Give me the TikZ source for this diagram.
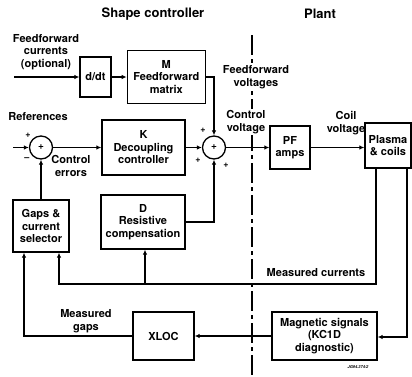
\documentclass[tikz,border=0pt]{standalone}
\usepackage{fontspec}
\setmainfont{TeX Gyre Heros}
\usepackage{tikz}
\usetikzlibrary{arrows.meta, positioning}
\tikzset{
  block/.style={rectangle, draw=black, line width=1.3pt, align=center, inner sep=0pt,
    font=\bfseries\fontsize{11}{12.5}\selectfont},
  sumnode/.style={circle, draw=black, line width=1.3pt, minimum size=23pt, inner sep=0pt,
    font=\bfseries\fontsize{10}{10}\selectfont},
  lbl/.style={align=center, inner sep=1pt, font=\bfseries\fontsize{11}{12.5}\selectfont},
  sign/.style={inner sep=0pt, font=\bfseries\fontsize{9}{9}\selectfont},
  sectitle/.style={inner sep=0pt, font=\bfseries\fontsize{13}{15}\selectfont},
  arrowline/.style={-{Latex[length=5pt,width=4.5pt]}, line width=1.1pt},
  divider/.style={line width=1.1pt, dash pattern=on 20pt off 4pt on 4pt off 4pt},
}

\begin{document}
\begin{tikzpicture}[x=1pt, y=-1pt]
  \useasboundingbox (0,0) rectangle (412,376);

  \node[sectitle] (shapetitle) at (153,14) {Shape controller};
  \node[sectitle] (planttitle) at (320,14) {Plant};
  \coordinate (divtop) at (252,35);
  \coordinate (divbot) at (252,376);
  \draw[divider] (divtop) -- (divbot);

  \node[lbl] (ffcur) at (46,52) {Feedforward\\currents\\(optional)};
  \coordinate (ffin) at (14,77);
  \node[block, minimum width=31pt, minimum height=40pt] (ddt) at (95.5,77) {d/dt};
  \node[block, minimum width=78pt, minimum height=53pt, right=15pt of ddt] (ffmat) {M\\Feedforward\\matrix};

  \node[lbl] (refs) at (38,117) {References};
  \coordinate (refin) at (13,147.5);
  \node[sumnode] (sumref) at (41,147.5) {+};
  \node[lbl] (cerr) at (71,166) {Control\\errors};
  \node[block, minimum width=83pt, minimum height=55pt] (decoup) at (143.5,147.5) {K\\Decoupling\\controller};
  \node[sumnode] (sumctl) at (214,147.5) {+};
  \node[block, minimum width=84pt, minimum height=54pt] (resist) at (143,222) {D\\Resistive\\compensation};
  \node[block, minimum width=56pt, minimum height=52pt] (gaps) at (41,226) {Gaps \&\\current\\selector};

  \node[lbl, fill=white] (ffvolt) at (256,77) {Feedforward\\voltages};
  \node[lbl, fill=white] (cvolt) at (246,122) {Control\\voltage};
  \node[block, minimum width=40pt, minimum height=43pt] (pfamps) at (290,147.5) {PF\\amps};
  \node[lbl] (coilv) at (346,123) {Coil\\voltage};
  \node[block, minimum width=46pt, minimum height=45pt] (plasma) at (388,145.5) {Plasma\\\& coils};

  \node[lbl] (mcur) at (316,273) {Measured currents};
  \node[block, minimum width=105pt, minimum height=48pt] (magsig) at (324.5,336) {Magnetic signals\\(KC1D\\diagnostic)};
  \node[block, minimum width=61pt, minimum height=48pt] (xloc) at (163.5,336) {XLOC};
  \node[lbl] (mgaps) at (86,321) {Measured\\gaps};
  \node[inner sep=0pt, font=\bfseries\itshape\fontsize{4}{4}\selectfont] (jgref) at (358,367) {JG94.374/2};

  \node[sign] (refplus) at (28,135) {+};
  \node[sign] (refminus) at (27,159) {--};
  \node[sign] (ffplus) at (203,130) {+};
  \node[sign] (kplus) at (198,160) {+};
  \node[sign] (dplus) at (226,165) {+};

  \draw[arrowline] (ffin) -- (ddt);
  \draw[arrowline] (ddt) -- (ffmat);
  \draw[arrowline] (refin) -- (sumref);
  \draw[arrowline] (sumref) -- (decoup);
  \draw[arrowline] (decoup) -- (sumctl);
  \draw[arrowline] (ffmat.east) -| (sumctl.north);
  \draw[arrowline] (resist.east) -| (sumctl.south);
  \draw[arrowline] (sumctl) -- (pfamps);
  \draw[arrowline] (pfamps.east) -- (pfamps.east -| plasma.west);
  \draw[arrowline] (gaps) -- (sumref);

  \coordinate (curright) at (376,284);
  \coordinate (curleft) at (59,284);
  \coordinate (curbranch) at (145,284);
  \draw[arrowline] (plasma.south -| curright) -- (curright) -- (curleft) -- (curleft |- gaps.south);
  \draw[arrowline] (curbranch) -- (curbranch |- resist.south);

  \coordinate (magright) at (407,337);
  \coordinate (gapsleft) at (24,336);
  \draw[arrowline] (plasma.south -| magright) -- (magright) -- (magright -| magsig.east);
  \draw[arrowline] (magsig) -- (xloc);
  \draw[arrowline] (xloc.west) -- (gapsleft) -- (gapsleft |- gaps.south);
\end{tikzpicture}
\end{document}
